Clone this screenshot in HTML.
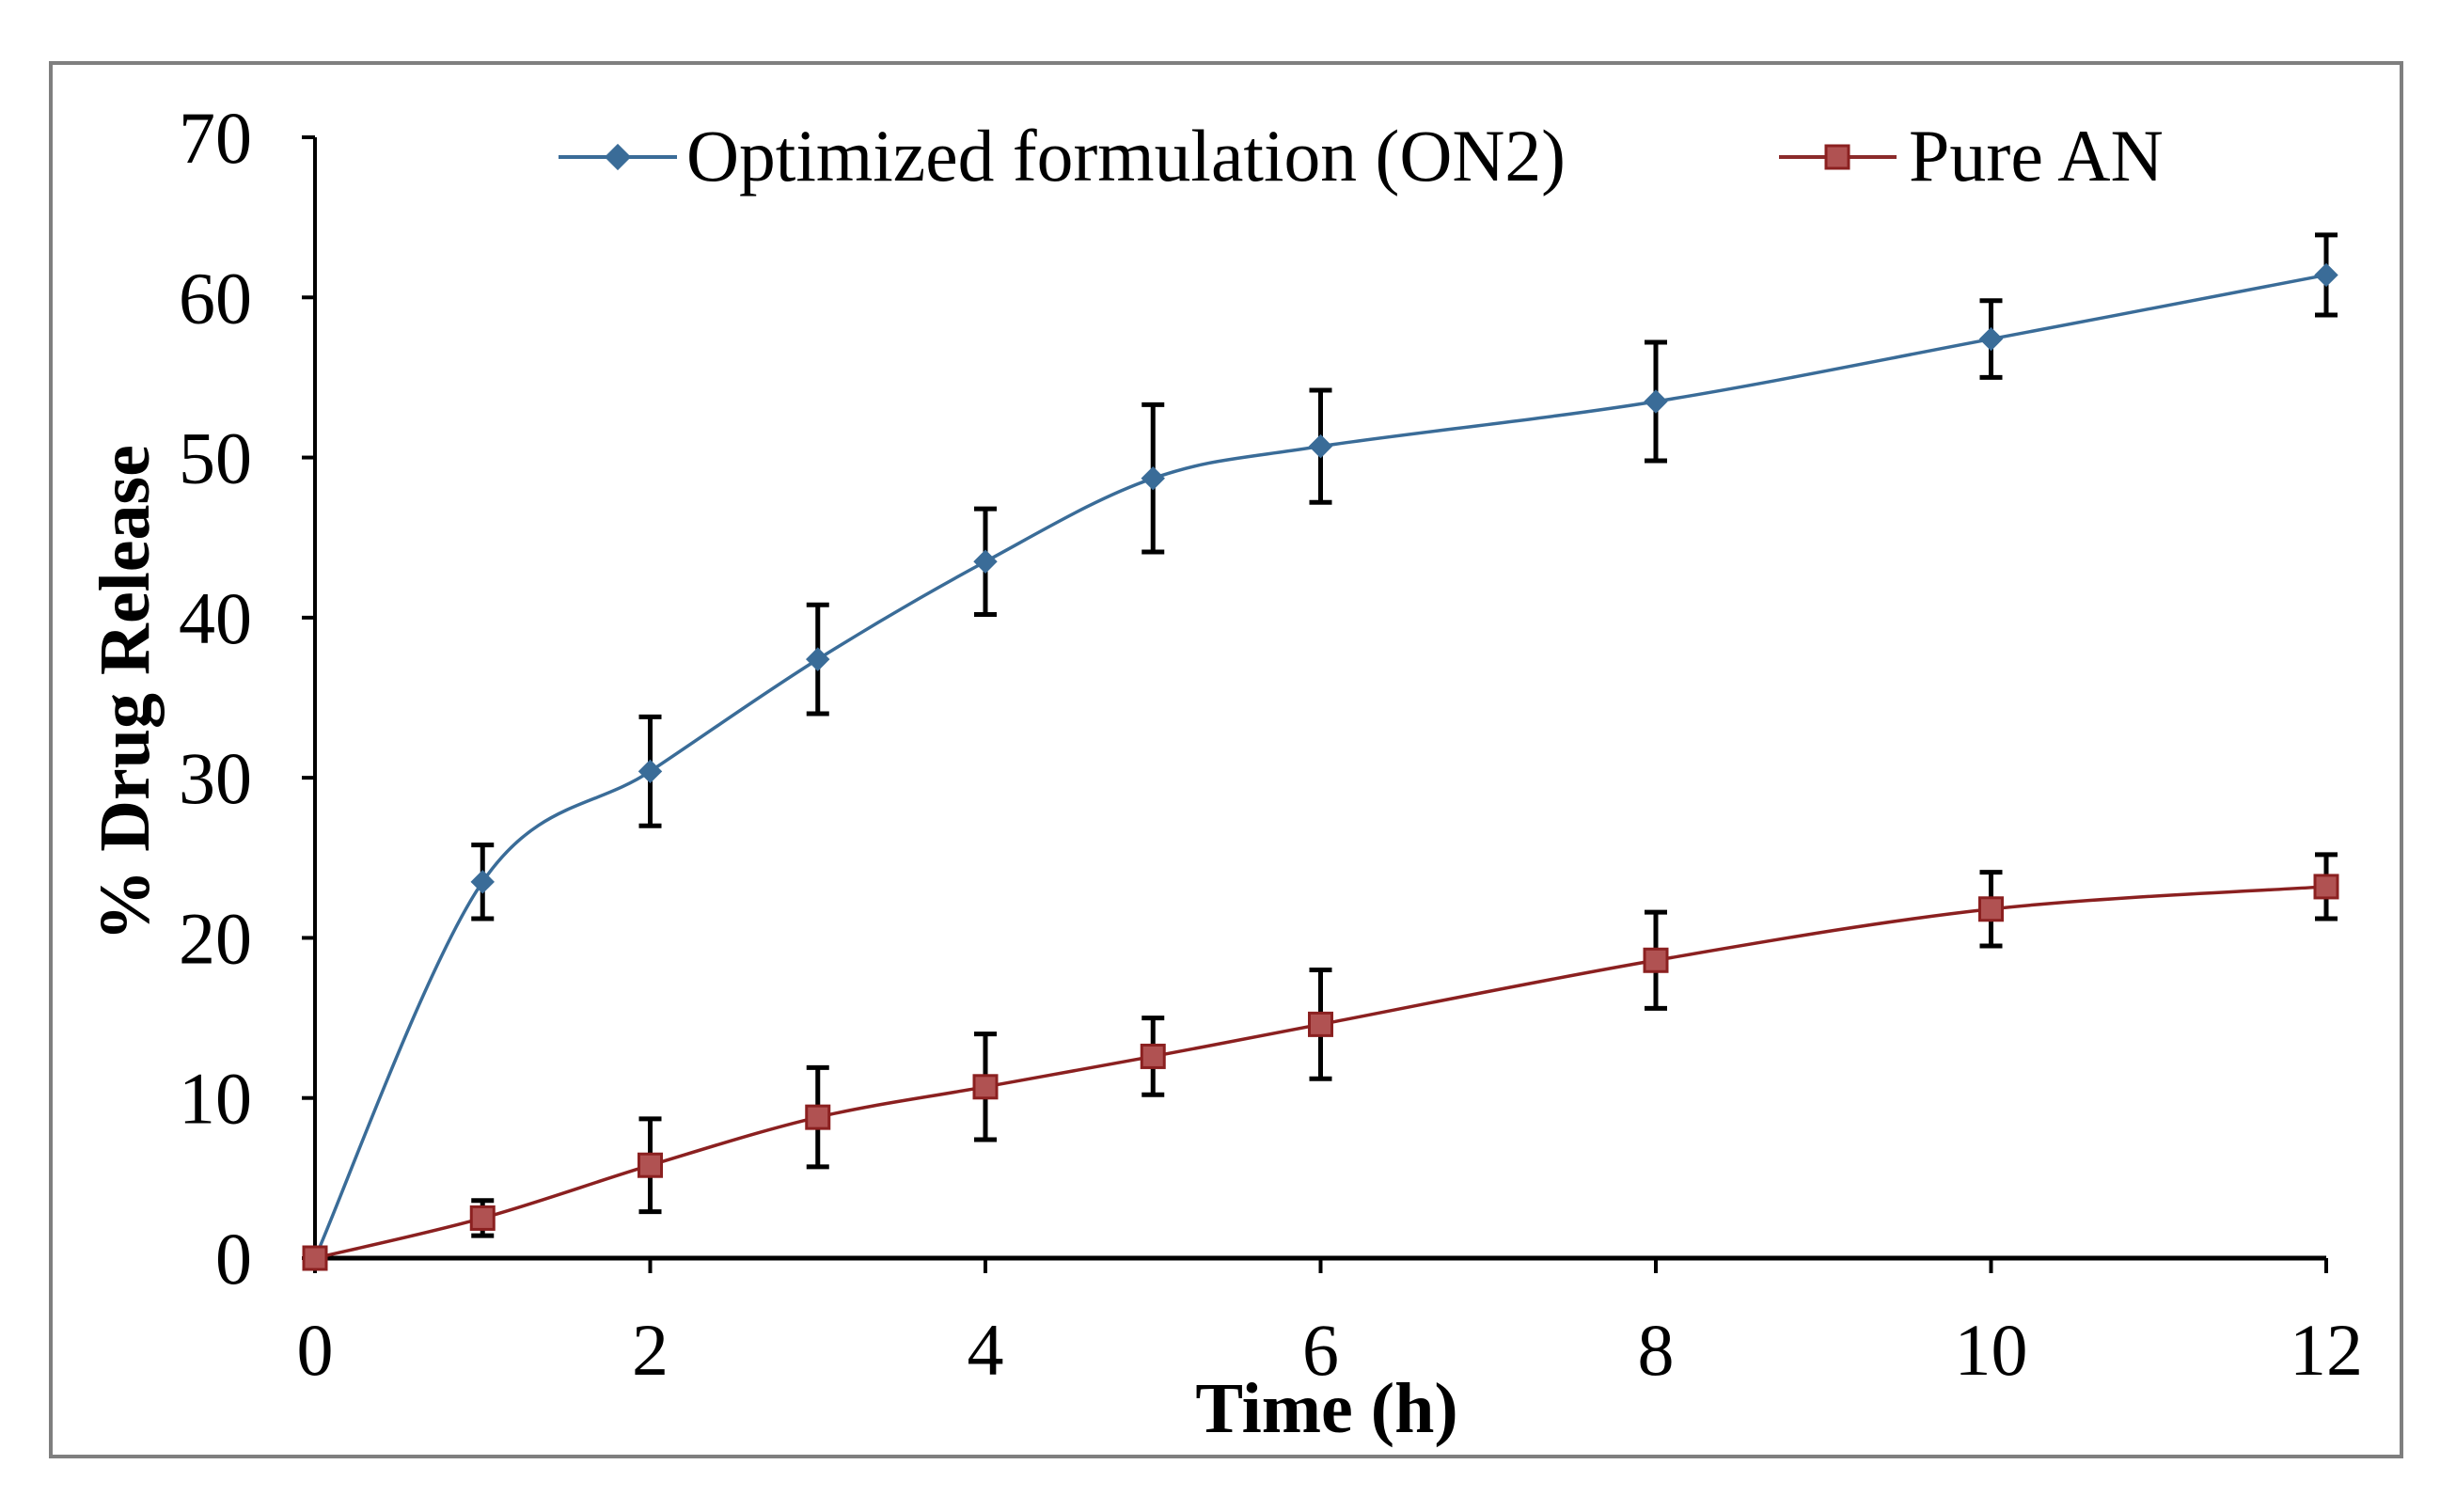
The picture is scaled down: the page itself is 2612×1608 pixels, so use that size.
<!DOCTYPE html>
<html><head><meta charset="utf-8"><style>
html,body{margin:0;padding:0;background:#fff;}
svg{display:block;font-family:"Liberation Serif",serif;}
</style></head><body>
<svg id="chart" width="2612" height="1608" viewBox="0 0 2612 1608">
<rect x="54" y="67" width="2500" height="1482" fill="#fff" stroke="#7f7f7f" stroke-width="4"/>
<g id="axes"></g>
<g id="series"></g>
<g>
 <g>
  <line x1="594" y1="167" x2="720" y2="167" stroke="#3a6c98" stroke-width="4"/>
  <rect x="647" y="157" width="20" height="20" fill="#3a6c98" transform="rotate(45 657 167)"/>
  <text x="730" y="192" font-size="78" fill="#000" textLength="935" lengthAdjust="spacingAndGlyphs">Optimized formulation (ON2)</text>
 </g>
 <g>
  <line x1="1892" y1="167" x2="2017" y2="167" stroke="#8b2b2b" stroke-width="4"/>
  <rect x="1942" y="155" width="24" height="24" fill="#b05252" stroke="#8b2020" stroke-width="3"/>
  <text x="2030" y="192" font-size="78" fill="#000">Pure AN</text>
 </g>
</g>
<text transform="translate(158 737) rotate(-90)" text-anchor="middle" font-size="76" font-weight="bold">% Drug Release</text>
<text x="1411" y="1523" text-anchor="middle" font-size="76" font-weight="bold">Time (h)</text>
</svg>
<script>
const times=[0,1,2,3,4,5,6,8,10,12];
const on2=[0,23.5,30.4,37.4,43.5,48.7,50.7,53.5,57.4,61.4];
const on2Err=[0,2.3,3.4,3.4,3.3,4.6,3.5,3.7,2.4,2.5];
const pure=[0,2.5,5.8,8.8,10.7,12.6,14.6,18.6,21.8,23.2];
const pureErr=[0,1.1,2.9,3.1,3.3,2.4,3.4,3.0,2.3,2.0];
const xTicks=[0,2,4,6,8,10,12];
const yTicks=[0,10,20,30,40,50,60,70];
const NS='http://www.w3.org/2000/svg';
const X0=335,X1=2474,Y0=1338,Y1=146;
function xs(v){return X0+(v-0)/(12-0)*(X1-X0);}
function ys(v){return Y0-(v-0)/(70-0)*(Y0-Y1);}
function mk(tag,attrs,parent){const e=document.createElementNS(NS,tag);for(const k in attrs)e.setAttribute(k,attrs[k]);parent.appendChild(e);return e;}
const axes=document.getElementById('axes');
let yl=mk('line',{x1:X0,y1:ys(70),x2:X0,y2:Y0,stroke:'#000','stroke-width':4},axes);


let xl=mk('line',{x1:X0,y1:Y0,x2:X1,y2:Y0,stroke:'#000','stroke-width':5},axes);


yTicks.forEach(t=>{
 const l=mk('line',{x1:X0-14,y1:ys(t),x2:X0,y2:ys(t),stroke:'#000','stroke-width':4},axes);
 
 
 const tx=mk('text',{x:268,y:ys(t)+27,'text-anchor':'end','font-size':78},axes);
 tx.textContent=t;
 
 
});
xTicks.forEach(t=>{
 const l=mk('line',{x1:xs(t),y1:Y0,x2:xs(t),y2:Y0+16,stroke:'#000','stroke-width':4},axes);
 
 
 const tx=mk('text',{x:xs(t),y:1462,'text-anchor':'middle','font-size':78},axes);
 tx.textContent=t;
 
 
});
function smooth(pts){
 let d='M'+pts[0][0]+' '+pts[0][1];
 for(let i=0;i<pts.length-1;i++){
  const p0=pts[Math.max(i-1,0)],p1=pts[i],p2=pts[i+1],p3=pts[Math.min(i+2,pts.length-1)];
  const c1=[p1[0]+(p2[0]-p0[0])/6,p1[1]+(p2[1]-p0[1])/6];
  const c2=[p2[0]-(p3[0]-p1[0])/6,p2[1]-(p3[1]-p1[1])/6];
  d+=' C'+c1[0]+' '+c1[1]+' '+c2[0]+' '+c2[1]+' '+p2[0]+' '+p2[1];
 }
 return d;
}
const sg=document.getElementById('series');
function drawSeries(vals,errs,color,fill,name,marker){
 const g=mk('g',{},sg);
 
 
 const pts=times.map((t,i)=>[xs(t),ys(vals[i])]);
 const p=mk('path',{d:smooth(pts),fill:'none',stroke:color,'stroke-width':3.5},g);
 
 
 times.forEach((t,i)=>{
  if(errs[i]>0){
   const x=xs(t),a=ys(vals[i]+errs[i]),b=ys(vals[i]-errs[i]);
   const e=mk('path',{d:`M${x} ${a}V${b}M${x-12} ${a}H${x+12}M${x-12} ${b}H${x+12}`,stroke:'#000','stroke-width':5,fill:'none'},g);
   
   
  }
 });
 times.forEach((t,i)=>{
  const x=xs(t),y=ys(vals[i]);
  let m;
  if(marker==='diamond'){m=mk('rect',{x:x-9,y:y-9,width:18,height:18,fill:color,transform:`rotate(45 ${x} ${y})`},g);}
  else{m=mk('rect',{x:x-12,y:y-12,width:24,height:24,fill:fill,stroke:color,'stroke-width':3},g);}
  
  
 });
}
drawSeries(on2,on2Err,'#3a6c98','#3a6c98','series-on2','diamond');
drawSeries(pure,pureErr,'#8b2020','#b05252','series-pure-an','square');
</script>
</body></html>
